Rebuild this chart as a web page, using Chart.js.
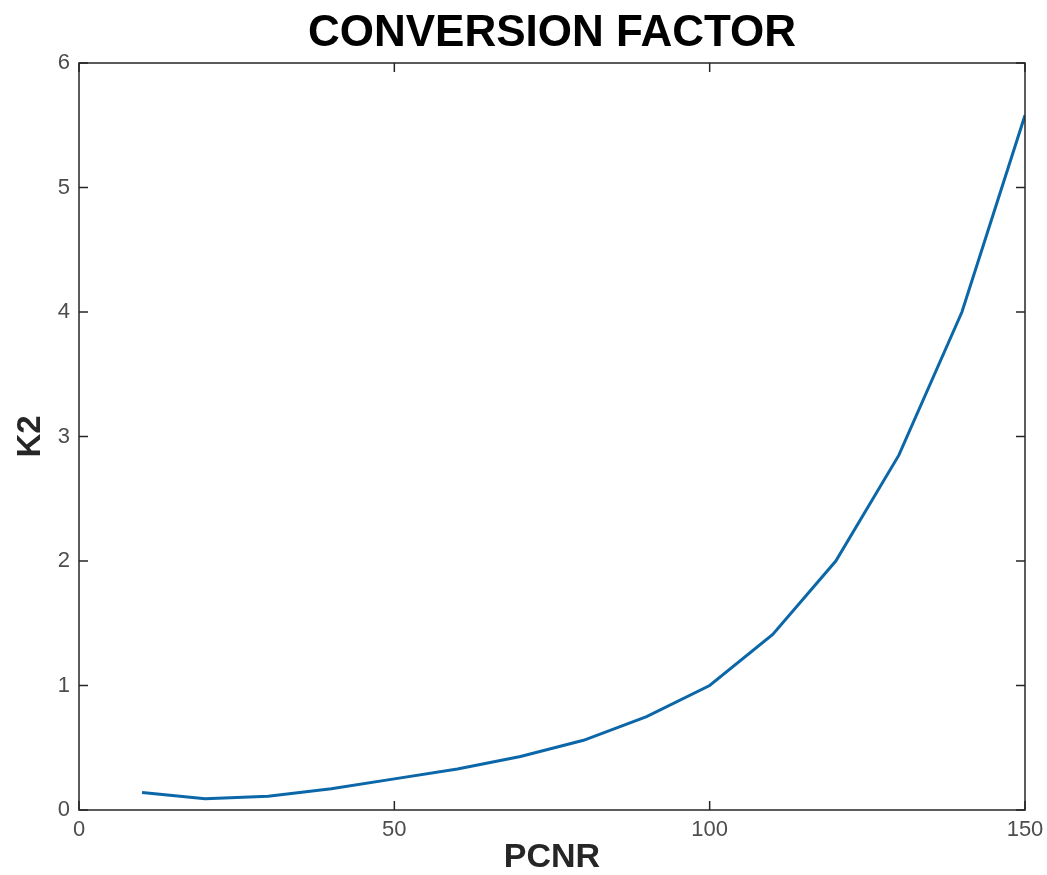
<!DOCTYPE html>
<html>
<head>
<meta charset="utf-8">
<script src="https://cdn.jsdelivr.net/npm/chart.js@4/dist/chart.umd.min.js"></script>
<style>
html,body{margin:0;padding:0;background:#fff;}
canvas{display:block;}
</style>
</head>
<body>
<canvas id="c" width="1047" height="875"></canvas>
<script>
const pcnr = [10, 20, 30, 40, 50, 60, 70, 80, 90, 100, 110, 120, 130, 140, 150];
const k2 = [0.14, 0.09, 0.11, 0.17, 0.25, 0.33, 0.43, 0.56, 0.75, 1.0, 1.41, 2.0, 2.85, 4.0, 5.58];
const xTicks = [0, 50, 100, 150];
const yTicks = [0, 1, 2, 3, 4, 5, 6];

const FONT = "'Liberation Sans', Arial, Helvetica, sans-serif";
const points = pcnr.map((x, i) => ({x: x, y: k2[i]}));

const boxPlugin = {
  id: 'box',
  afterDatasetsDraw(chart) {
    const {ctx, chartArea: a, scales: {x, y}} = chart;
    ctx.save();
    ctx.strokeStyle = '#262626';
    ctx.lineWidth = 1.5;
    ctx.strokeRect(a.left, a.top, a.right - a.left, a.bottom - a.top);
    const L = 9;
    ctx.beginPath();
    xTicks.forEach(v => {
      const px = x.getPixelForValue(v);
      ctx.moveTo(px, a.bottom); ctx.lineTo(px, a.bottom - L);
      ctx.moveTo(px, a.top); ctx.lineTo(px, a.top + L);
    });
    yTicks.forEach(v => {
      const py = y.getPixelForValue(v);
      ctx.moveTo(a.left, py); ctx.lineTo(a.left + L, py);
      ctx.moveTo(a.right, py); ctx.lineTo(a.right - L, py);
    });
    ctx.stroke();
    ctx.restore();
  }
};

new Chart(document.getElementById('c'), {
  type: 'line',
  data: {
    datasets: [{
      data: points,
      borderColor: '#0b67a8',
      borderWidth: 3,
      pointRadius: 0,
      tension: 0,
      fill: false
    }]
  },
  options: {
    responsive: false,
    animation: false,
    layout: {padding: {left: 0, right: 22, top: 0, bottom: 0}},
    plugins: {
      legend: {display: false},
      tooltip: {enabled: false},
      title: {
        display: true,
        fullSize: false,
        text: 'CONVERSION FACTOR',
        color: '#000',
        font: {family: FONT, size: 44, weight: 'bold', lineHeight: 1.2},
        padding: {top: 7, bottom: 3.2}
      }
    },
    scales: {
      x: {
        type: 'linear',
        min: 0, max: 150,
        afterBuildTicks: s => { s.ticks = xTicks.map(v => ({value: v})); },
        afterFit: s => { s.height = 65; s.paddingLeft = 0; s.paddingRight = 0; },
        grid: {display: false, drawTicks: false},
        border: {display: false},
        ticks: {
          padding: 7, maxRotation: 0, autoSkip: false,
          color: '#4d4d4d',
          font: {family: FONT, size: 22}
        },
        title: {
          display: true, text: 'PCNR', color: '#262626',
          font: {family: FONT, size: 34, weight: 'bold', lineHeight: 1},
          padding: {top: 0, bottom: 0}
        }
      },
      y: {
        type: 'linear',
        min: 0, max: 6,
        afterBuildTicks: s => { s.ticks = yTicks.map(v => ({value: v})); },
        afterFit: s => { s.width = 79; s.paddingTop = 0; s.paddingBottom = 0; },
        grid: {display: false, drawTicks: false},
        border: {display: false},
        ticks: {
          padding: 9, autoSkip: false,
          color: '#4d4d4d',
          font: {family: FONT, size: 22}
        },
        title: {
          display: true, text: 'K2', color: '#262626',
          font: {family: FONT, size: 33, weight: 'bold', lineHeight: 1},
          padding: {top: 14, bottom: 0}
        }
      }
    }
  },
  plugins: [boxPlugin]
});
</script>
</body>
</html>
